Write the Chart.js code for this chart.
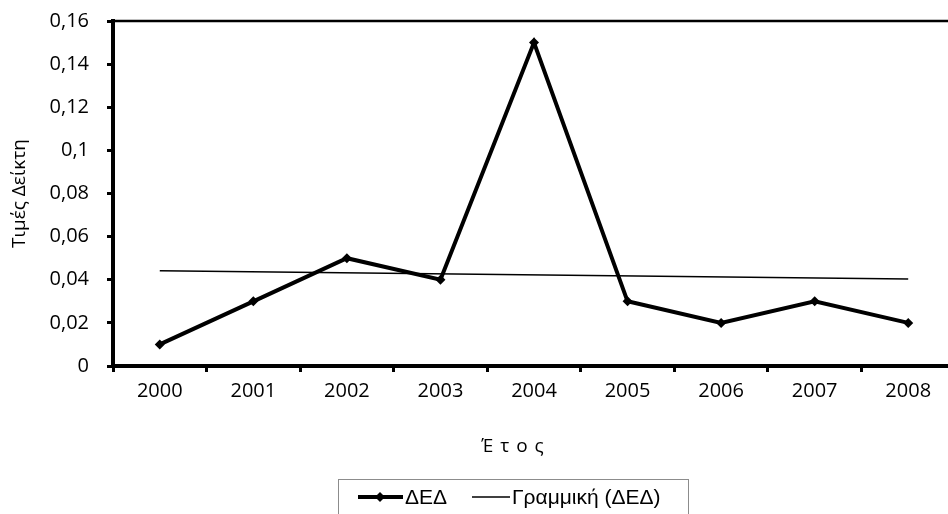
<!DOCTYPE html>
<html>
<head>
<meta charset="utf-8">
<script src="https://cdn.jsdelivr.net/npm/chart.js@4.4.1/dist/chart.umd.min.js"></script>
<style>
	html, body { margin: 0; padding: 0; background: #fff; overflow: hidden; }
	#wrap { position: relative; width: 960px; height: 514px; }
</style>
</head>
<body>
<div id="wrap"><canvas id="chart"></canvas></div>
<script>
var years = ["2000", "2001", "2002", "2003", "2004", "2005", "2006", "2007", "2008"];
var ded = [0.01, 0.03, 0.05, 0.04, 0.15, 0.03, 0.02, 0.03, 0.02];
// linear trend, only its two ends are drawn
var trend = [0.0442, null, null, null, null, null, null, null, 0.0403];
var yTicks = [0, 0.02, 0.04, 0.06, 0.08, 0.1, 0.12, 0.14, 0.16];

var tickFont = { family: "'Open Sans'", size: 20 };

function comma(v) {
	return String(+v.toFixed(2)).replace(".", ",");
}

// top frame line, x title and legend box
var extras = {
	id: "extras",
	afterDraw: function(chart) {
		var c = chart.ctx, a = chart.chartArea;
		c.save();
		c.strokeStyle = "#000";
		c.lineWidth = 2.5;
		c.beginPath();
		c.moveTo(a.left, a.top);
		c.lineTo(a.right, a.top);
		c.stroke();

		c.fillStyle = "#000";
		c.font = "19px 'Open Sans'";
		c.textAlign = "center";
		c.textBaseline = "middle";
		c.letterSpacing = "1px";
		c.fillText("Έ τ ο ς", 513, 447);
		c.letterSpacing = "0px";

		c.strokeStyle = "#8c8c8c";
		c.lineWidth = 1;
		c.strokeRect(338.5, 479.5, 350, 60);

		var y = 497;
		c.strokeStyle = "#000";
		c.lineWidth = 4;
		c.beginPath();
		c.moveTo(358, y);
		c.lineTo(403, y);
		c.stroke();
		c.beginPath();
		c.moveTo(380, y - 5);
		c.lineTo(385, y);
		c.lineTo(380, y + 5);
		c.lineTo(375, y);
		c.closePath();
		c.fill();

		c.lineWidth = 1.5;
		c.beginPath();
		c.moveTo(472, y);
		c.lineTo(510, y);
		c.stroke();

		c.font = "21px 'Liberation Sans'";
		c.textAlign = "left";
		c.fillText("ΔΕΔ", 405, y + 1);
		c.fillText("Γραμμική (ΔΕΔ)", 512, y + 1);
		c.restore();
	}
};

new Chart(document.getElementById("chart"), {
	type: "line",
	data: {
		labels: years,
		datasets: [{
			label: "ΔΕΔ",
			data: ded,
			borderColor: "#000",
			backgroundColor: "#000",
			borderWidth: 4,
			pointStyle: "rectRot",
			pointRadius: 5,
			pointBorderWidth: 0,
			tension: 0
		}, {
			label: "Γραμμική (ΔΕΔ)",
			data: trend,
			borderColor: "#000",
			borderWidth: 1.5,
			pointRadius: 0,
			spanGaps: true
		}]
	},
	options: {
		responsive: true,
		maintainAspectRatio: false,
		animation: false,
		layout: { padding: { top: 21, right: 0, bottom: 52, left: 0 } },
		plugins: {
			legend: { display: false },
			tooltip: { enabled: false }
		},
		scales: {
			x: {
				offset: true,
				grid: { display: true, offset: true, drawOnChartArea: false, color: "#000", tickLength: 6, tickWidth: 3 },
				border: { display: true, color: "#000", width: 4 },
				ticks: { color: "#000", font: tickFont, padding: 7, maxRotation: 0 },
				afterFit: function(s) { s.height = 96; s.paddingLeft = 0; s.paddingRight = 0; }
			},
			y: {
				min: 0,
				max: 0.16,
				afterBuildTicks: function(s) { s.ticks = yTicks.map(function(v) { return { value: v }; }); },
				grid: { display: true, drawOnChartArea: false, color: "#000", tickLength: 6, tickWidth: 3 },
				border: { display: true, color: "#000", width: 4 },
				ticks: { color: "#000", font: tickFont, padding: 18, callback: function(v) { return comma(v); } },
				title: { display: true, text: "Τιμές Δείκτη", color: "#000", font: { family: "'Open Sans'", size: 19 }, padding: { top: 8, bottom: 0 } },
				afterFit: function(s) { s.width = 113; s.paddingTop = 0; s.paddingBottom = 0; }
			}
		}
	},
	plugins: [extras]
});
</script>
</body>
</html>
